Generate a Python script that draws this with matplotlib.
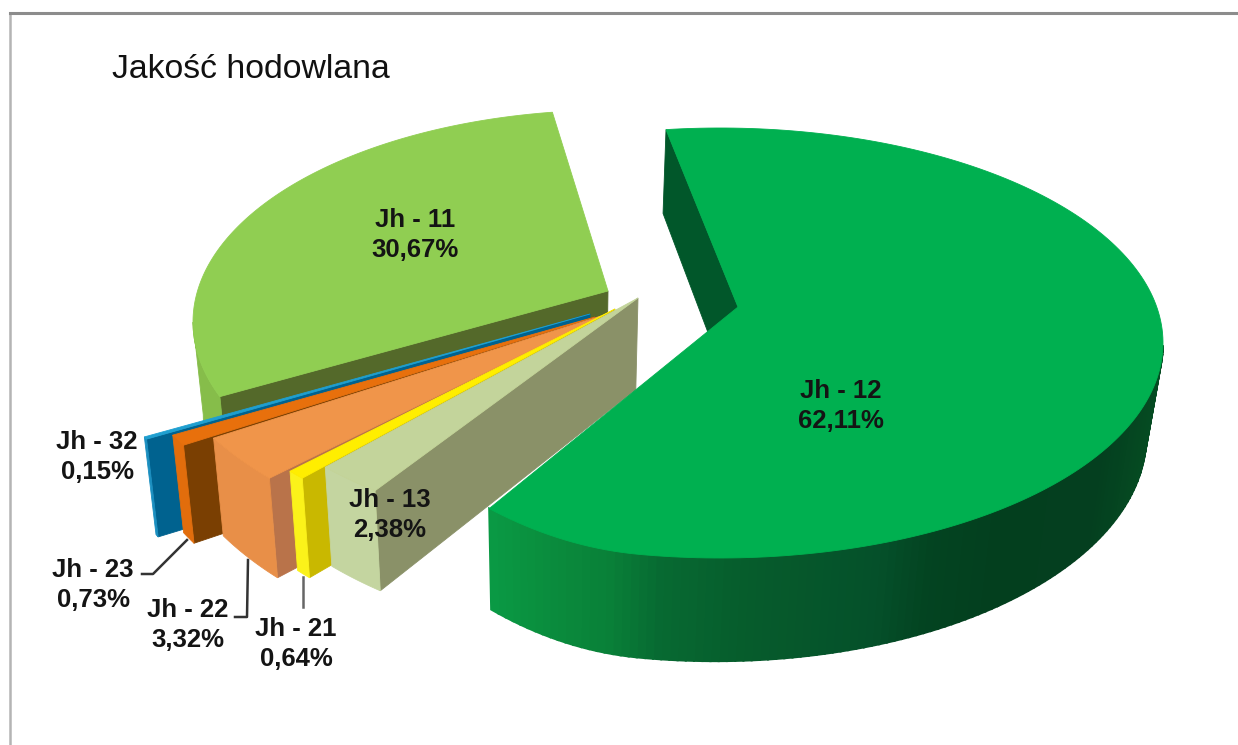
import numpy as np
import matplotlib
matplotlib.use('Agg')
import matplotlib.pyplot as plt

plt.rcParams['font.family'] = ['Liberation Sans', 'DejaVu Sans']

# slices in clockwise order, starting from the big one
names = ['Jh - 12', 'Jh - 13', 'Jh - 21', 'Jh - 22', 'Jh - 23', 'Jh - 32', 'Jh - 11']
values = [62.11, 2.38, 0.64, 3.32, 0.73, 0.15, 30.67]

title = 'Jakość hodowlana'
first_angle = -7

# geometry of each exploded slice in pixels: wedge tip, rim centre, rim radii
tip_x = [738, 638, 615, 601, 595, 590, 608]
tip_y = [307, 298, 309, 316, 317, 314, 291]
centre_x = [720, 638, 615, 601, 595, 590, 613]
centre_y = [343, 298, 309, 316, 317, 314, 322]
radius_x = [443, 441, 441, 450, 478, 502, 420]
radius_y = [215, 240, 240, 240, 252, 267, 212]
# the perspective pulls the rim ends a little away from the exact angle
shift_start = [0, 0, 0, 0, 0, 0, 6.8]
shift_end = [-5.2, 0, 0, 0, 0, 0, -1.3]
# the big slice flattens towards its lower left corner
flatten = [0.00079, 0, 0, 0, 0, 0, 0]

top_colors = ['#00b050', '#c3d49b', '#ffee00', '#f0954a', '#e8700c', '#1f9fd0', '#90ce52']
rim_colors = [None, '#c4d5a0', '#fbf21a', '#e88f48', '#e26d0c', '#1b8fc0', '#86bd4a']
side_colors = ['#01572a', '#8a9168', '#c9b800', '#b9734a', '#7a3f02', '#00628f', '#54692a']

# shading of the big rim, by x pixel
shade_x = [489, 560, 610, 660, 750, 880, 930, 1000, 1100, 1160]
shade_r = [10, 10, 9, 7, 6, 5, 3, 3, 4, 5]
shade_g = [154, 138, 128, 106, 92, 80, 68, 63, 63, 76]
shade_b = [68, 60, 56, 50, 44, 42, 33, 30, 31, 34]

label_x = [841, 390, 296, 188, 93, 97, 415]
label_y = [406, 515, 644, 625, 585, 457, 235]

# leader lines, x and y pixels
leader_x = [[142, 153, 187], [235, 247, 248], [303, 303]]
leader_y = [[574, 574, 540], [617, 617, 560], [577, 607]]
leader_colors = ['#333333', '#333333', '#666666']


def rim(i, angles):
    a = np.radians(angles)
    x = centre_x[i] + radius_x[i] * np.sin(a)
    y = centre_y[i] - radius_y[i] * np.cos(a)
    y = y - flatten[i] * np.clip(640 - x, 0, None) ** 2
    return x, y


def drop(x, y):
    # bottom of the pie: converges a bit to the middle, thinner at the back
    x = np.asarray(x, dtype=float)
    y = np.asarray(y, dtype=float)
    return x + (560 - x) * 0.028, y + 78 + 0.045 * y


def fill(ax, x, y, color, z, lw=0.6):
    ax.fill(x, y, color=color, lw=lw, zorder=z)


fig = plt.figure(figsize=(12.38, 7.45), dpi=100)
ax = fig.add_axes([0, 0, 1, 1])
ax.set_xlim(0, 1238)
ax.set_ylim(745, 0)
ax.axis('off')

ax.plot([10, 10], [13, 745], color='#b4b4b4', lw=1.8, zorder=1)
ax.plot([10, 1238], [13, 13], color='#8c8c8c', lw=2.2, zorder=1)

sweep = np.array(values) / np.sum(values) * 360
starts = first_angle + np.concatenate([[0], np.cumsum(sweep)[:-1]])
ends = starts + sweep

# back to front
order = [6, 5, 4, 3, 2, 1, 0]
for n, i in enumerate(order):
    z = 10 + n * 5
    a0 = starts[i] + shift_start[i]
    a1 = ends[i] + shift_end[i]
    angles = np.linspace(a0, a1, 200)
    x, y = rim(i, angles)

    # flat side at the start of the slice
    sx = np.array([x[0], tip_x[i]])
    sy = np.array([y[0], tip_y[i]])
    bx, by = drop(sx, sy)
    fill(ax, np.r_[sx, bx[::-1]], np.r_[sy, by[::-1]], side_colors[i], z)

    # rim side, only the part turned to the viewer
    front = angles[(angles > 90) & (angles < 270)]
    fx, fy = rim(i, front)
    bx, by = drop(fx, fy)
    if rim_colors[i] is None:
        for k in range(len(fx) - 1):
            mid = (fx[k] + fx[k + 1]) / 2
            shade = (np.interp(mid, shade_x, shade_r) / 255,
                     np.interp(mid, shade_x, shade_g) / 255,
                     np.interp(mid, shade_x, shade_b) / 255)
            fill(ax, [fx[k], fx[k + 1], bx[k + 1], bx[k]],
                 [fy[k], fy[k + 1], by[k + 1], by[k]], shade, z + 1, lw=1.5)
    else:
        fill(ax, np.r_[fx, bx[::-1]], np.r_[fy, by[::-1]], rim_colors[i], z + 1)

    # top of the slice
    fill(ax, np.r_[tip_x[i], x], np.r_[tip_y[i], y], top_colors[i], z + 2)

for lx, ly, c in zip(leader_x, leader_y, leader_colors):
    ax.plot(lx, ly, color=c, lw=1.8, zorder=60)

for i in range(len(names)):
    pct = f'{values[i]:.2f}'.replace('.', ',') + '%'
    ax.text(label_x[i], label_y[i], names[i] + '\n' + pct, ha='center', va='center',
            fontsize=18.5, fontweight='bold', color='#141414', linespacing=1.3, zorder=70)

ax.text(112, 69, title, ha='left', va='center', fontsize=24.3, color='#111111', zorder=70)

fig.savefig('out.png', dpi=100)
